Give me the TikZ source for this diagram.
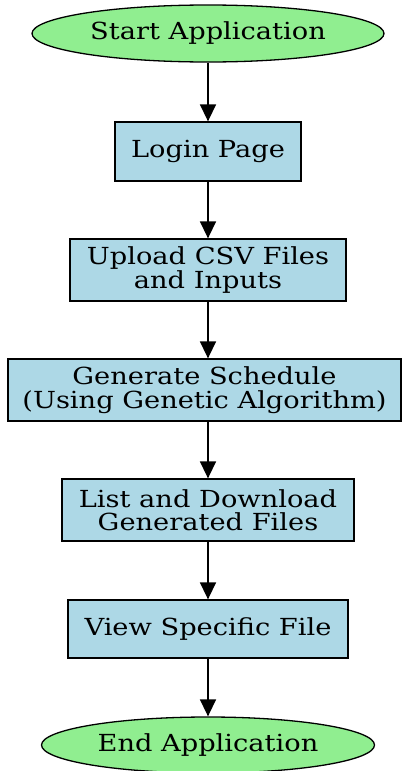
\documentclass[tikz,border=0pt]{standalone}
\usepackage{fontspec}
\setmainfont{DejaVu Serif}[FakeStretch=1.16]
\usetikzlibrary{shapes.geometric,arrows.meta}
\definecolor{lgreen}{HTML}{90EE90}
\definecolor{lblue}{HTML}{ADD8E6}
\begin{document}
\begin{tikzpicture}[x=1pt,y=-1pt,
  term/.style={ellipse,draw=black,fill=lgreen,line width=1.3pt,inner sep=0pt,font=\fontsize{23.5}{23.5}\selectfont},
  proc/.style={rectangle,draw=black,fill=lblue,line width=1.3pt,inner sep=0pt,align=center,font=\fontsize{23.5}{23.5}\selectfont},
  flow/.style={-{Triangle[length=17pt,width=16pt]},line width=1.5pt}]
\useasboundingbox (0,0) rectangle (402,771);
\node[term,minimum width=352pt,minimum height=57pt] (start) at (208,33.5) {Start Application};
\node[proc,minimum width=186pt,minimum height=59pt] (login) at (208,151.5) {Login Page};
\node[proc,minimum width=276pt,minimum height=62pt] (upload) at (208,270) {Upload CSV Files\\and Inputs};
\node[proc,minimum width=393pt,minimum height=62pt] (gen) at (204.5,390) {Generate Schedule\\(Using Genetic Algorithm)};
\node[proc,minimum width=292pt,minimum height=62pt] (list) at (208,510) {List and Download\\Generated Files};
\node[proc,minimum width=280pt,minimum height=58pt] (view) at (208,629) {View Specific File};
\node[term,minimum width=333pt,minimum height=56pt] (end) at (208,745) {End Application};
\draw[flow] (start.south) -- (start.south |- login.north);
\draw[flow] (login.south) -- (login.south |- upload.north);
\draw[flow] (upload.south) -- (upload.south |- gen.north);
\draw[flow] (gen.south -| upload.south) -- (upload.south |- list.north);
\draw[flow] (list.south) -- (list.south |- view.north);
\draw[flow] (view.south) -- (view.south |- end.north);
\end{tikzpicture}
\end{document}
